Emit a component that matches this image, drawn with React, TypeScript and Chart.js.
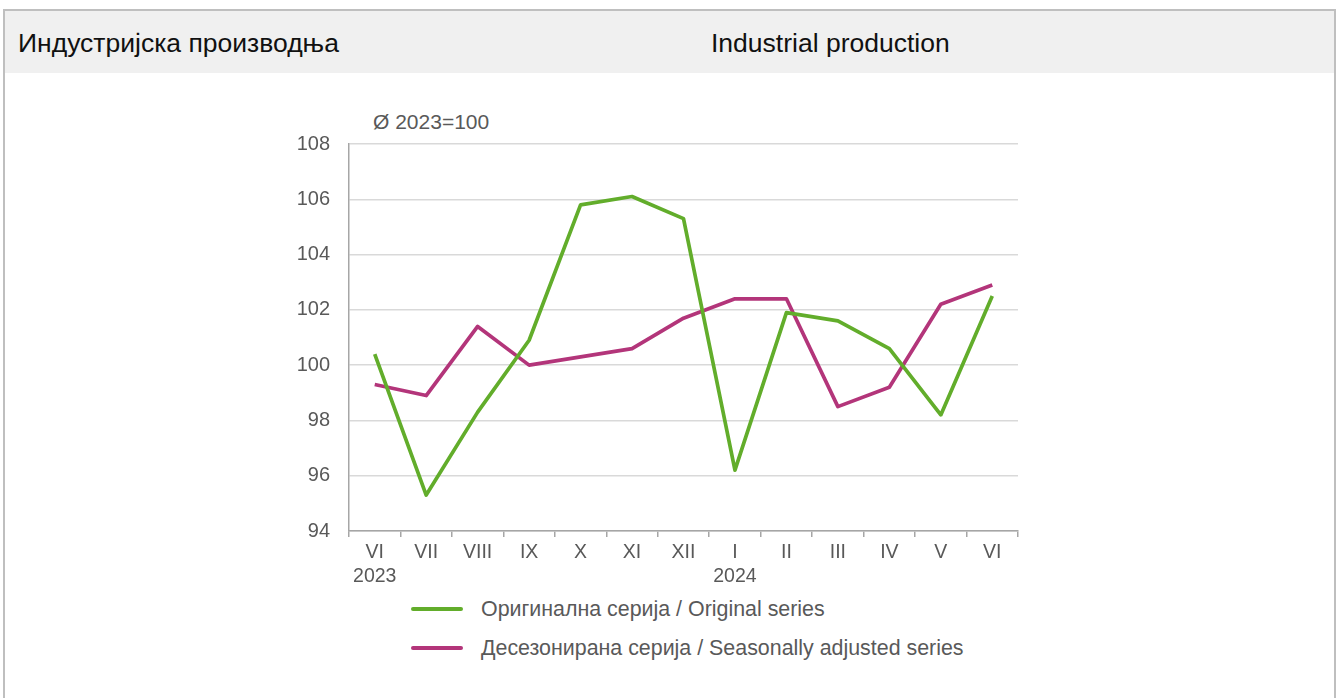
import React, { useEffect, useRef } from "react";
import { Chart, registerables } from "chart.js";

Chart.register(...registerables);

const months = ["VI", "VII", "VIII", "IX", "X", "XI", "XII", "I", "II", "III", "IV", "V", "VI"];
const years = ["2023", "", "", "", "", "", "", "2024", "", "", "", "", ""];
const originalSeries = [100.4, 95.3, 98.3, 100.9, 105.8, 106.1, 105.3, 96.2, 101.9, 101.6, 100.6, 98.2, 102.5];
const adjustedSeries = [99.3, 98.9, 101.4, 100.0, 100.3, 100.6, 101.7, 102.4, 102.4, 98.5, 99.2, 102.2, 102.9];
const yMin = 94;
const yMax = 108;
const yStep = 2;

const titleLeft = "Индустријска производња";
const titleRight = "Industrial production";
const baseNote = "Ø 2023=100";
const legendOriginal = "Оригинална серија / Original series";
const legendAdjusted = "Десезонирана серија / Seasonally adjusted series";

const GREEN = "#62ad2b";
const MAGENTA = "#b3357a";
const TEXT = "#595959";
const AXIS = "#a6a6a6";
const GRID = "#d9d9d9";
const FONT = "Arial, 'Liberation Sans', sans-serif";

export default function App() {
  const canvasRef = useRef<HTMLCanvasElement | null>(null);

  useEffect(() => {
    document.body.style.margin = "0";
    const canvas = canvasRef.current;
    if (!canvas) return;
    const labels = months.map((m, i) => (years[i] ? [m, years[i]] : m));
    const chart = new Chart(canvas, {
      type: "line",
      data: {
        labels,
        datasets: [
          {
            label: legendOriginal,
            data: originalSeries,
            borderColor: GREEN,
            backgroundColor: GREEN,
            borderWidth: 3.7,
            pointRadius: 0,
            tension: 0,
            borderJoinStyle: "round",
          },
          {
            label: legendAdjusted,
            data: adjustedSeries,
            borderColor: MAGENTA,
            backgroundColor: MAGENTA,
            borderWidth: 3.7,
            pointRadius: 0,
            tension: 0,
            borderJoinStyle: "round",
          },
        ],
      },
      options: {
        animation: false,
        responsive: false,
        maintainAspectRatio: false,
        layout: { padding: { top: 13, right: 12, bottom: 0, left: 0 } },
        plugins: { legend: { display: false }, tooltip: { enabled: false } },
        scales: {
          x: {
            type: "category",
            offset: true,
            grid: {
              display: true,
              offset: true,
              drawOnChartArea: false,
              drawTicks: true,
              tickLength: 6,
              color: AXIS,
              lineWidth: 1.5,
            },
            border: { display: true, color: AXIS, width: 1.5 },
            ticks: {
              color: TEXT,
              font: { family: FONT, size: 19.5, lineHeight: 1.25 },
              padding: 3,
              maxRotation: 0,
              autoSkip: false,
            },
            afterFit: (scale: any) => {
              scale.height = 60;
            },
          },
          y: {
            min: yMin,
            max: yMax,
            grid: { color: GRID, lineWidth: 1.5, drawTicks: false },
            border: { display: true, color: AXIS, width: 1.5 },
            ticks: {
              stepSize: yStep,
              color: TEXT,
              font: { family: FONT, size: 20 },
              padding: 19,
            },
            afterFit: (scale: any) => {
              scale.width = 99;
            },
          },
        },
      },
    });
    return () => chart.destroy();
  }, []);

  const legendRow = (color: string, text: string, top: number) => (
    <div style={{ position: "absolute", left: 411, top: top - 14, height: 28, display: "flex", alignItems: "center" }}>
      <div style={{ width: 52, height: 3.7, background: color, borderRadius: 2 }} />
      <div style={{ marginLeft: 18, color: TEXT, fontFamily: FONT, fontSize: 21.4, whiteSpace: "nowrap" }}>{text}</div>
    </div>
  );

  return (
    <div style={{ position: "absolute", left: 0, top: 0, width: 1337, height: 698, overflow: "hidden", background: "#fff" }}>
      <div
        style={{
          position: "absolute",
          left: 3,
          top: 9,
          width: 1333,
          height: 720,
          border: "2px solid #bfbfbf",
          boxSizing: "border-box",
        }}
      />
      <div
        style={{
          position: "absolute",
          left: 5,
          top: 11,
          width: 1329,
          height: 62,
          background: "#f0f0f0",
        }}
      />
      <div style={{ position: "absolute", left: 18, top: 12, height: 62, display: "flex", alignItems: "center", fontFamily: FONT, fontSize: 26.5, color: "#111", whiteSpace: "nowrap" }}>
        {titleLeft}
      </div>
      <div style={{ position: "absolute", left: 711, top: 12, height: 62, display: "flex", alignItems: "center", fontFamily: FONT, fontSize: 26.5, color: "#111", whiteSpace: "nowrap" }}>
        {titleRight}
      </div>
      <div style={{ position: "absolute", left: 373, top: 110, fontFamily: FONT, fontSize: 21, color: TEXT, whiteSpace: "nowrap" }}>{baseNote}</div>
      <canvas ref={canvasRef} width={780} height={478} style={{ position: "absolute", left: 250, top: 113, width: 780, height: 478 }} />
      {legendRow(GREEN, legendOriginal, 609)}
      {legendRow(MAGENTA, legendAdjusted, 648)}
    </div>
  );
}
